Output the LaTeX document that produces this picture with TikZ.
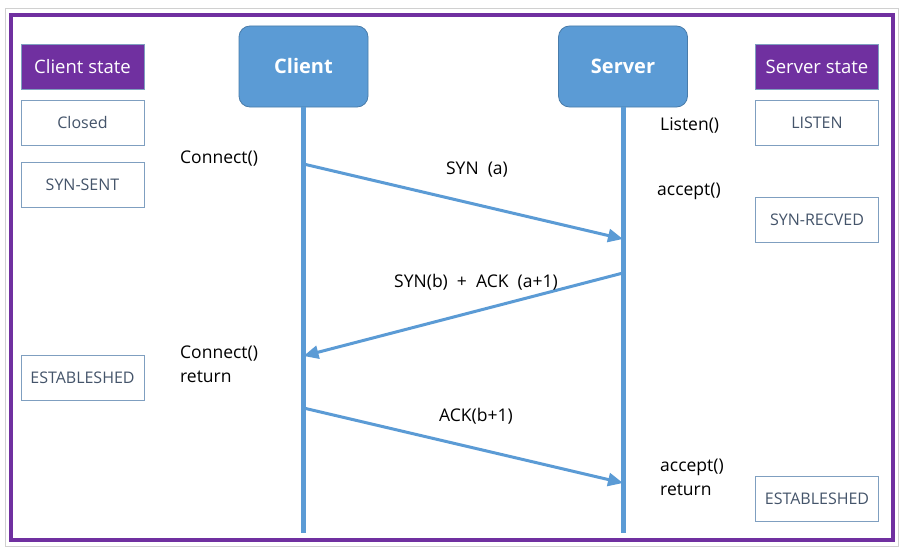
\documentclass[tikz,border=0pt]{standalone}
\usepackage{fontspec}
\setmainfont{Open Sans}
\usetikzlibrary{arrows.meta}
\definecolor{frame}{HTML}{7030A0}
\definecolor{life}{HTML}{5B9BD5}
\definecolor{sbord}{HTML}{7F9FC0}
\definecolor{stext}{HTML}{44546A}
\definecolor{outer}{HTML}{D0D0D0}
\tikzset{
  hdr/.style={draw=sbord, fill=frame, text=white, minimum width=123pt, minimum height=45pt, inner sep=0pt, font=\fontsize{18.5}{22}\selectfont, line width=0.8pt},
  st/.style={draw=sbord, fill=white, text=stext, minimum width=123pt, minimum height=45pt, inner sep=0pt, font=\fontsize{16}{19}\selectfont, line width=0.8pt},
  actor/.style={draw=life!80!black, fill=life, text=white, rounded corners=11pt, minimum width=129pt, minimum height=81pt, font=\fontsize{20}{24}\selectfont\bfseries, line width=0.8pt},
  lbl/.style={font=\fontsize{17.5}{24}\selectfont, text=black, inner sep=0pt, align=left},
  lifeline/.style={draw=life, line width=5pt},
  msg/.style={draw=life, line width=3pt, -{Triangle[length=15pt,width=13pt]}},
}
\begin{document}
\begin{tikzpicture}[x=1pt,y=-1pt]
\useasboundingbox (0,0) rectangle (912,551);
\fill[white] (0,0) rectangle (912,551);
\draw[outer, line width=1pt] (5,9) rectangle (898,546);
\draw[frame, line width=4pt] (11,15) rectangle (893,540);
% state columns
\node[hdr] (cs) at (82.5,66.5) {Client state};
\node[st] (closed) at (82.5,122.5) {Closed};
\node[st] (synsent) at (82.5,184.5) {SYN-SENT};
\node[st] (cest) at (82.5,377.5) {ESTABLESHED};
\node[hdr] (ss) at (817,66.5) {Server state};
\node[st] (listen) at (817,123) {LISTEN};
\node[st] (synrecv) at (817,219.5) {SYN-RECVED};
\node[st] (sest) at (817,499) {ESTABLESHED};
% actors
\node[actor] (client) at (303.5,66.5) {Client};
\node[actor] (server) at (623,66.5) {Server};
\coordinate (cend) at (303.5,533);
\coordinate (send) at (623,533);
\draw[lifeline] (client.south) -- (cend);
\draw[lifeline] (server.south) -- (send);
% message points
\coordinate (c1) at (303.5,164);
\coordinate (s1) at (623,239);
\coordinate (s2) at (623,273);
\coordinate (c2) at (303.5,356);
\coordinate (c3) at (303.5,408);
\coordinate (s3) at (623,483);
\draw[msg] (c1) -- (s1);
\draw[msg] (s2) -- (c2);
\draw[msg] (c3) -- (s3);
% labels
\node[lbl, anchor=west] (conn) at (180,159) {Connect()};
\node[lbl] (syna) at (477,170) {SYN\ \ (a)};
\node[lbl, anchor=west] (lis) at (660,125) {Listen()};
\node[lbl, anchor=west] (acc) at (657,191) {accept()};
\node[lbl] (synack) at (476,282) {SYN(b)\ \ +\ \ ACK\ \ (a+1)};
\node[lbl, anchor=west] (connret) at (180,364) {Connect()\\return};
\node[lbl] (ackb) at (476,416) {ACK(b+1)};
\node[lbl, anchor=west] (accret) at (660,477) {accept()\\return};
\end{tikzpicture}
\end{document}
